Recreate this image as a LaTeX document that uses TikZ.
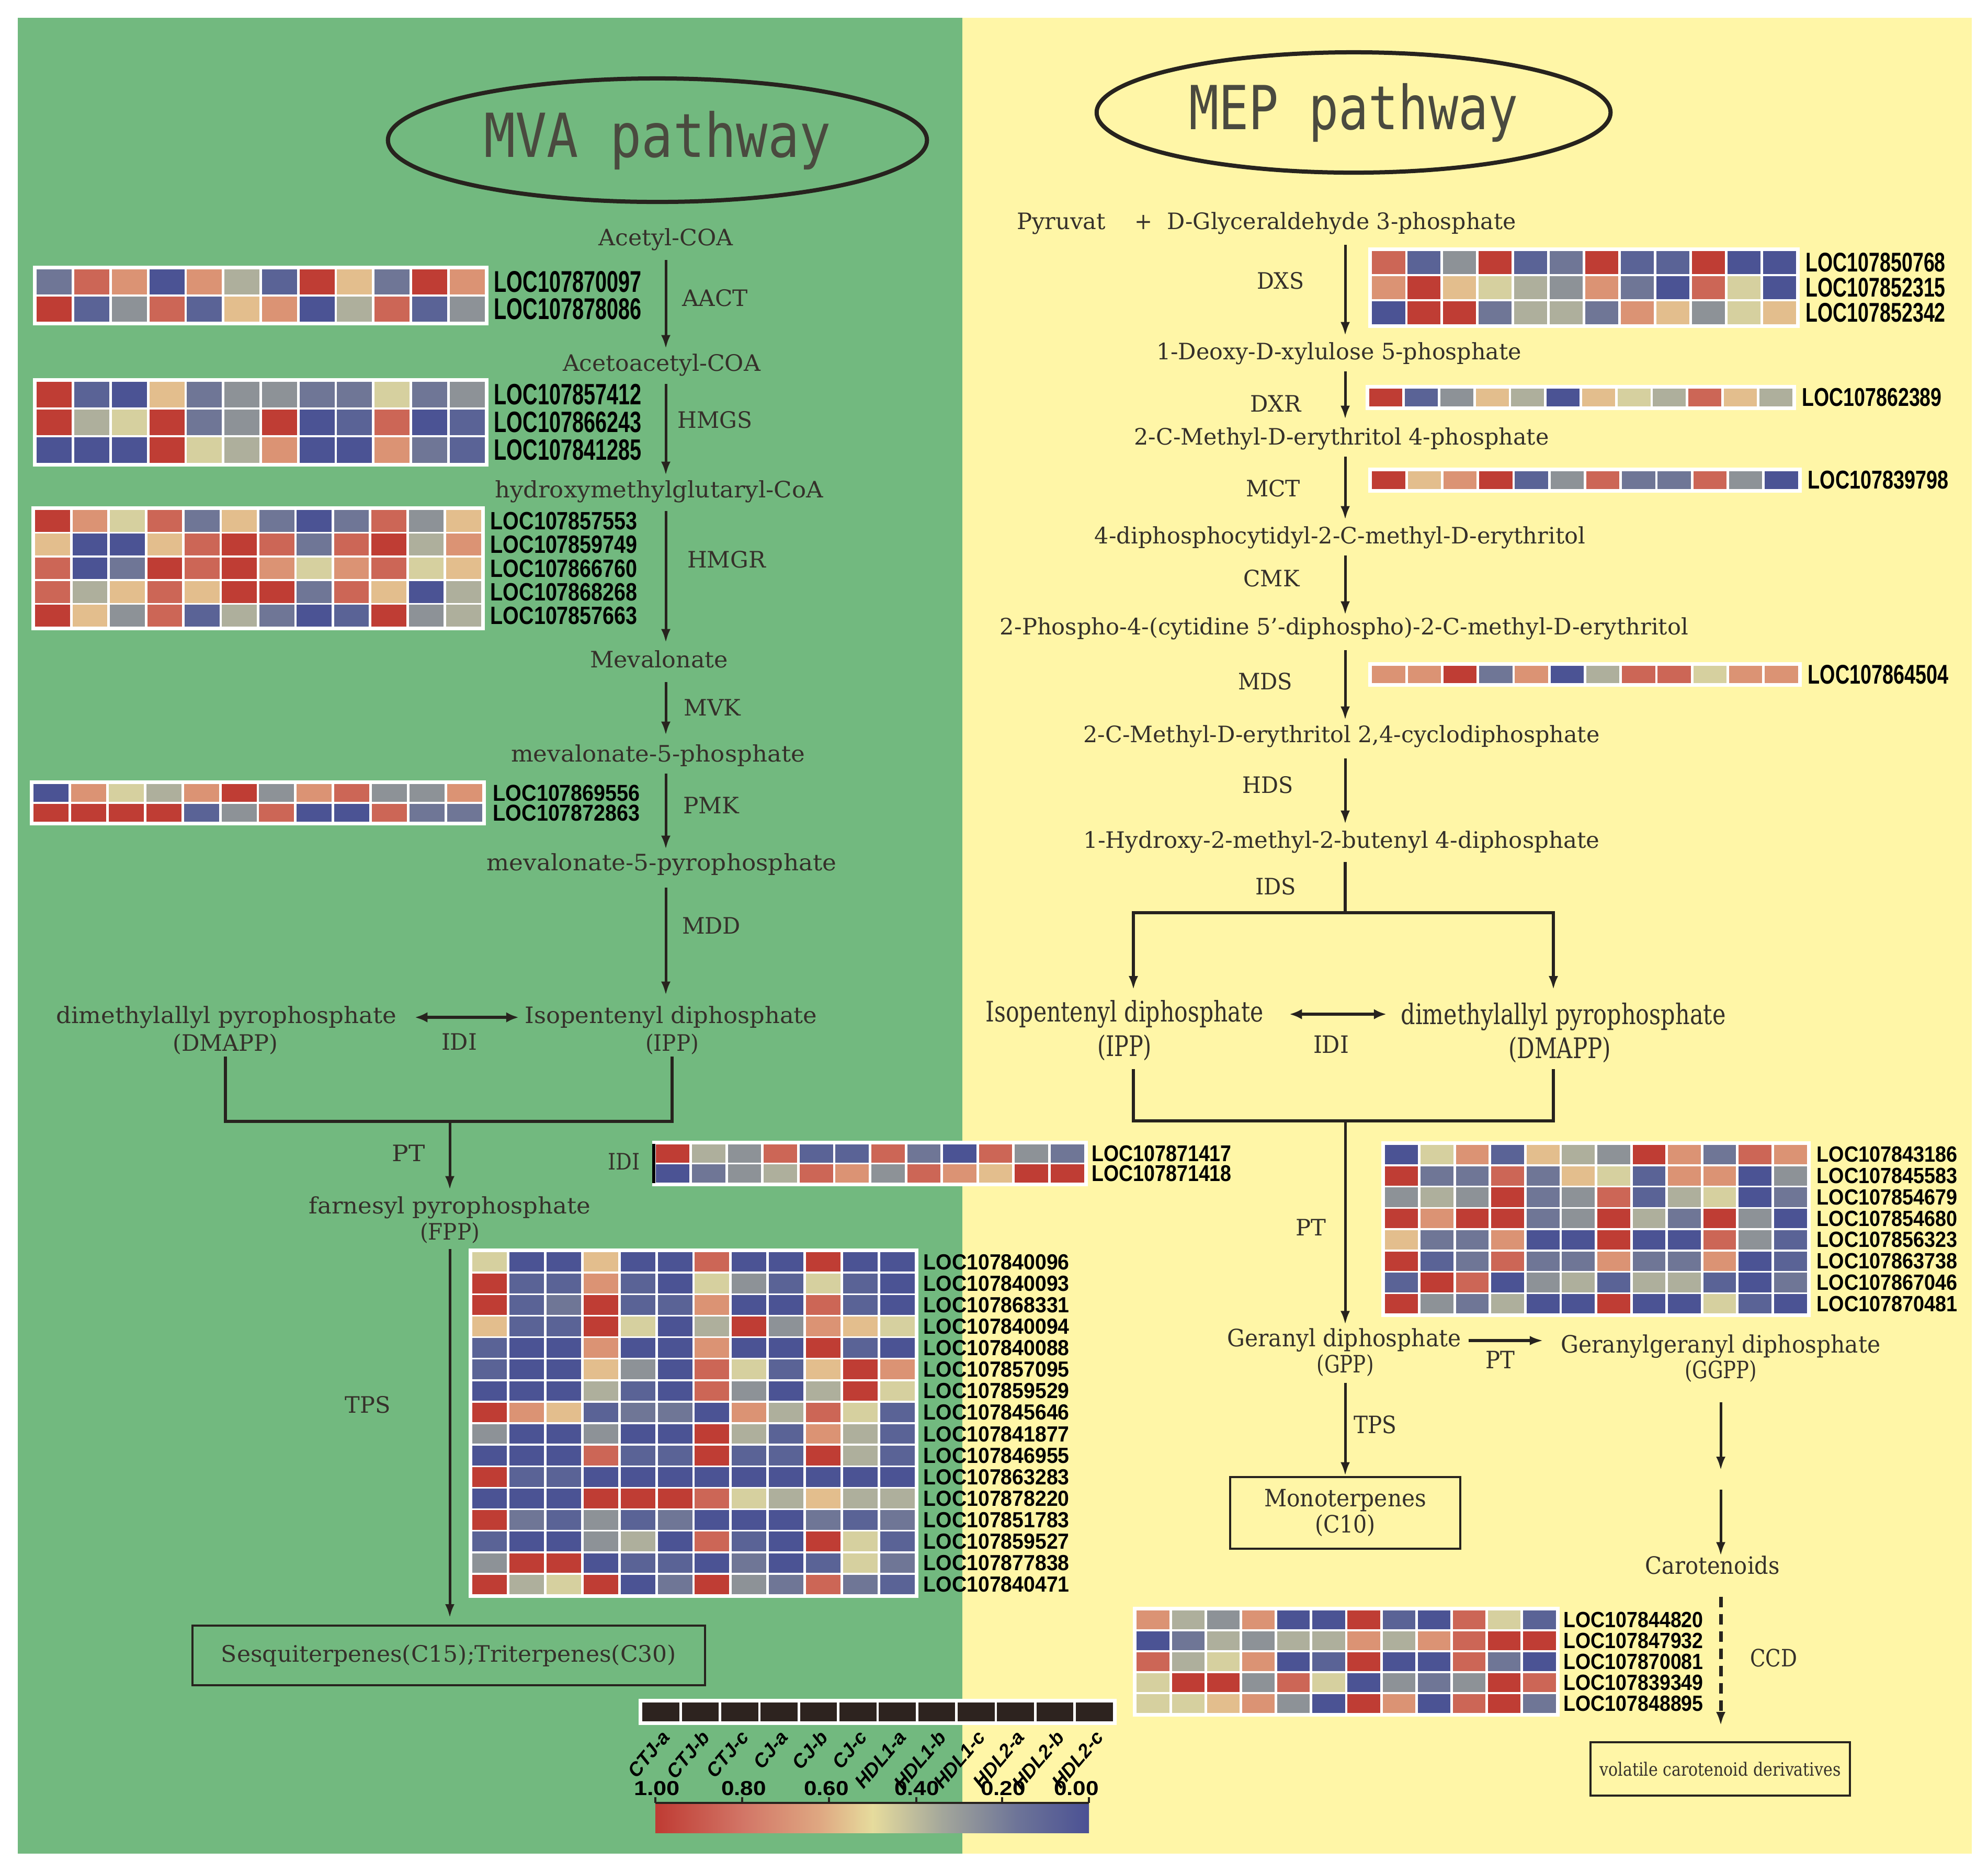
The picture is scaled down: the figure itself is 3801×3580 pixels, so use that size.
\documentclass[tikz,border=0pt]{standalone}
\usepackage{fontspec}
\setmainfont{DejaVu Serif}
\newfontfamily\locf{Liberation Sans}
\newfontfamily\monof{DejaVu Sans Mono}
\usetikzlibrary{arrows.meta,shapes.geometric,calc}
\newdimen\pxu \pxu=0.01cm
\newcommand\fw[2]{\resizebox{#1\pxu}{\height}{#2}}
\definecolor{bggreen}{HTML}{72B97F}
\definecolor{bgyellow}{HTML}{FFF6A7}
\definecolor{ink}{HTML}{27231E}
\definecolor{txtc}{HTML}{35302A}
\definecolor{ell}{HTML}{4A4A3F}
\definecolor{sq}{HTML}{2D231F}
\definecolor{hc0}{HTML}{4B5394}
\definecolor{hc1}{HTML}{5A6396}
\definecolor{hc2}{HTML}{6F7696}
\definecolor{hc3}{HTML}{8D9297}
\definecolor{hc4}{HTML}{AEAF9C}
\definecolor{hc5}{HTML}{D6D09F}
\definecolor{hc6}{HTML}{E3BE8D}
\definecolor{hc7}{HTML}{DB9374}
\definecolor{hc8}{HTML}{CC6656}
\definecolor{hc9}{HTML}{BF3D34}
\definecolor{g0}{HTML}{BF3B33}
\definecolor{g1}{HTML}{D27566}
\definecolor{g2}{HTML}{DFA882}
\definecolor{g3}{HTML}{E6DC9D}
\definecolor{g4}{HTML}{A4A79B}
\definecolor{g5}{HTML}{6E7598}
\definecolor{g6}{HTML}{4B5194}
\tikzset{
 txt/.style={inner sep=0pt, text=txtc, font=\fontsize{12.3}{14}\selectfont, text height=9.35pt, text depth=2.95pt},
 mid/.style={inner sep=0pt, text=txtc, font=\fontsize{13}{15}\selectfont, text height=9.88pt, text depth=3.12pt},
 big/.style={inner sep=0pt, text=txtc, font=\fontsize{15.4}{18}\selectfont, text height=11.7pt, text depth=3.7pt},
 loc/.style={inner sep=0pt, anchor=west, text=black},
 arr/.style={draw=ink, line width=0.05cm, -{Latex[length=0.26cm,width=0.18cm]}},
 brk/.style={draw=ink, line width=0.06cm, line join=miter},
 dbl/.style={draw=ink, line width=0.055cm, {Latex[length=0.24cm,width=0.2cm]}-{Latex[length=0.24cm,width=0.2cm]}},
 sbox/.style={draw=ink, line width=0.04cm, inner sep=0pt, text=txtc},
 pw/.style={ellipse, draw=ink, line width=0.08cm, inner sep=0pt, text=ell, font=\monof\fontsize{33}{33}\selectfont},
 leg/.style={inner sep=0pt, text=black, font=\locf\bfseries\itshape\fontsize{10.5}{11}\selectfont},
 num/.style={inner sep=0pt, text=black, font=\locf\bfseries\fontsize{11}{12}\selectfont},
}
\newcommand\hset[8]{%
 \pgfmathsetmacro\hx{#1+5}\pgfmathsetmacro\hy{#2+5}%
 \pgfmathsetmacro\cw{(#3-#1-10)/12}\pgfmathsetmacro\rh{(#4-#2-10)/#5}%
 \def\lx{#6}\def\lfs{#7}\def\lw{#8}%
 \fill[white] (#1,#2) rectangle (#3,#4);}
\newcommand\hrow[3]{%
 \foreach \v [count=\i from 0] in {#2}{%
  \fill[fill=hc\v] ({\hx+\i*\cw+2.4},{\hy+#1*\rh+1.8}) rectangle ({\hx+(\i+1)*\cw-2.4},{\hy+(#1+1)*\rh-1.8});}%
 \node[loc, font=\locf\bfseries\fontsize{\lfs}{\lfs}\selectfont] (#3) at (\lx,{\hy+(#1+0.5)*\rh}) {\fw{\lw}{#3}};}
\begin{document}
\begin{tikzpicture}[x=0.01cm, y=-0.01cm]
\useasboundingbox (0,0) rectangle (3801,3580);
\fill[white] (0,0) rectangle (3801,3580);
\fill[bggreen] (34,34) rectangle (1840,3544);
\fill[bgyellow] (1840,34) rectangle (3770,3544);

% ---------- ellipses
\node[pw, minimum width=10.3cm, minimum height=2.36cm] (mva) at (1257,268) {\fw{664}{MVA pathway}};
\node[pw, minimum width=9.82cm, minimum height=2.3cm] (mepp) at (2588,215) {\fw{630}{MEP pathway}};

% ---------- MVA texts
\node[txt] (acetyl) at (1273,458) {\fw{257}{Acetyl-COA}};
\node[txt] (aact) at (1367,574) {\fw{126}{AACT}};
\node[txt] (acetoa) at (1265,698) {\fw{378}{Acetoacetyl-COA}};
\node[txt] (hmgs) at (1367,807) {\fw{143}{HMGS}};
\node[txt] (hmgcoa) at (1260,940) {\fw{628}{hydroxymethylglutaryl-CoA}};
\node[txt] (hmgr) at (1389,1074) {\fw{150}{HMGR}};
\node[txt] (mev) at (1260,1265) {\fw{264}{Mevalonate}};
\node[txt] (mvk) at (1362,1357) {\fw{109}{MVK}};
\node[txt] (mevp) at (1258,1445) {\fw{562}{mevalonate-5-phosphate}};
\node[txt] (pmk) at (1360,1544) {\fw{107}{PMK}};
\node[txt] (mevpp) at (1265,1653) {\fw{669}{mevalonate-5-pyrophosphate}};
\node[txt] (mdd) at (1360,1774) {\fw{112}{MDD}};
\node[txt] (dmapp) at (433,1945) {\fw{651}{dimethylallyl pyrophosphate}};
\node[txt] (dmappb) at (431,1998) {\fw{201}{(DMAPP)}};
\node[txt] (ipp) at (1283,1945) {\fw{559}{Isopentenyl diphosphate}};
\node[txt] (ippb) at (1285,1998) {\fw{102}{(IPP)}};
\node[txt] (idia) at (878,1996) {\fw{68}{IDI}};
\node[txt] (pta) at (781,2209) {\fw{63}{PT}};
\node[txt] (idib) at (1193,2225) {\fw{61}{IDI}};
\node[txt] (fpp) at (860,2309) {\fw{539}{farnesyl pyrophosphate}};
\node[txt] (fppb) at (860,2359) {\fw{114}{(FPP)}};
\node[txt] (tpsa) at (703,2690) {\fw{87}{TPS}};
\node[sbox, minimum width=9.8cm, minimum height=1.14cm, font=\fontsize{12.3}{14}\selectfont] (sesq) at (858,3165) {\fw{870}{Sesquiterpenes(C15);Triterpenes(C30)}};

% ---------- MVA connectors
\coordinate (mvx) at (1273,0);
\draw[arr, shorten <=0.17cm, shorten >=0.09cm] (acetyl.south -| mvx) -- (acetoa.north -| mvx);
\draw[arr, shorten <=0.14cm, shorten >=0.09cm] (acetoa.south -| mvx) -- (hmgcoa.north -| mvx);
\draw[arr, shorten <=0.15cm, shorten >=0.14cm] (hmgcoa.south -| mvx) -- (mev.north -| mvx);
\draw[arr, shorten <=0.17cm, shorten >=0.17cm] (mev.south -| mvx) -- (mevp.north -| mvx);
\draw[arr, shorten <=0.12cm, shorten >=0.07cm] (mevp.south -| mvx) -- (mevpp.north -| mvx);
\draw[arr, shorten <=0.22cm, shorten >=0.20cm] (mevpp.south -| mvx) -- (ipp.north -| mvx);
\draw[dbl, shorten <=0.34cm, shorten >=0.11cm] (dmapp.east) -- (ipp.west);
\coordinate (mvajoin) at (860,2144);
\draw[brk] (dmappb.south) -- (dmappb.south |- mvajoin) -- (ippb.south |- mvajoin) -- (ippb.south);
\draw[arr, shorten >=0.12cm] (mvajoin) -- (fpp.north -| mvajoin);
\draw[arr, shorten <=0.07cm, shorten >=0.13cm] (fppb.south) -- (fppb.south |- sesq.north);

% ---------- MEP texts
\node[txt] (pyr) at (2029,427) {\fw{170}{Pyruvat}};
\node[txt] (plus) at (2186,427) {\fw{34}{+}};
\node[txt] (gap) at (2565,427) {\fw{667}{D-Glyceraldehyde 3-phosphate}};
\node[txt] (dxs) at (2448,541) {\fw{90}{DXS}};
\node[txt] (dxp) at (2560,676) {\fw{698}{1-Deoxy-D-xylulose 5-phosphate}};
\node[txt] (dxr) at (2439,776) {\fw{97}{DXR}};
\node[txt] (mep) at (2565,839) {\fw{793}{2-C-Methyl-D-erythritol 4-phosphate}};
\node[txt] (mct) at (2434,938) {\fw{104}{MCT}};
\node[txt] (cdpme) at (2562,1028) {\fw{938}{4-diphosphocytidyl-2-C-methyl-D-erythritol}};
\node[txt] (cmk) at (2431,1110) {\fw{107}{CMK}};
\node[txt] (cdpmep) at (2570,1202) {\fw{1316}{2-Phospho-4-(cytidine 5’-diphospho)-2-C-methyl-D-erythritol}};
\node[txt] (mds) at (2419,1307) {\fw{104}{MDS}};
\node[txt] (mecpp) at (2565,1408) {\fw{987}{2-C-Methyl-D-erythritol 2,4-cyclodiphosphate}};
\node[txt] (hds) at (2424,1505) {\fw{97}{HDS}};
\node[txt] (hmbpp) at (2565,1610) {\fw{987}{1-Hydroxy-2-methyl-2-butenyl 4-diphosphate}};
\node[txt] (ids) at (2439,1699) {\fw{78}{IDS}};
\node[big] (ippm) at (2150,1939) {\fw{531}{Isopentenyl diphosphate}};
\node[big] (ippmb) at (2150,2005) {\fw{104}{(IPP)}};
\node[mid] (idim) at (2545,2002) {\fw{68}{IDI}};
\node[big] (dmappm) at (2989,1944) {\fw{621}{dimethylallyl pyrophosphate}};
\node[big] (dmappmb) at (2982,2009) {\fw{196}{(DMAPP)}};
\node[txt] (ptm) at (2506,2351) {\fw{58}{PT}};
\node[mid] (gpp) at (2570,2563) {\fw{447}{Geranyl diphosphate}};
\node[mid] (gppb) at (2572,2613) {\fw{109}{(GPP)}};
\node[mid] (ptb) at (2868,2605) {\fw{56}{PT}};
\node[mid] (ggpp) at (3290,2575) {\fw{611}{Geranylgeranyl diphosphate}};
\node[mid] (ggppb) at (3290,2624) {\fw{138}{(GGPP)}};
\node[mid] (tpsm) at (2629,2729) {\fw{82}{TPS}};
\node[sbox, minimum width=4.4cm, minimum height=1.37cm, align=center, font=\fontsize{13}{14.2}\selectfont] (mono) at (2572,2892) {\fw{310}{Monoterpenes}\\\fw{116}{(C10)}};
\node[mid] (carot) at (3274,2998) {\fw{257}{Carotenoids}};
\node[mid] (ccd) at (3391,3175) {\fw{90}{CCD}};
\node[sbox, minimum width=4.96cm, minimum height=1.02cm, font=\fontsize{10}{12}\selectfont] (vol) at (3289,3382) {\fw{461}{volatile carotenoid derivatives}};

% ---------- MEP connectors
\coordinate (mpx) at (2572,0);
\draw[arr, shorten <=0.19cm, shorten >=0.12cm] (gap.south -| mpx) -- (dxp.north -| mpx);
\draw[arr, shorten <=0.12cm, shorten >=0.15cm] (dxp.south -| mpx) -- (mep.north -| mpx);
\draw[arr, shorten <=0.12cm, shorten >=0.12cm] (mep.south -| mpx) -- (cdpme.north -| mpx);
\draw[arr, shorten <=0.12cm, shorten >=0.04cm] (cdpme.south -| mpx) -- (cdpmep.north -| mpx);
\draw[arr, shorten <=0.19cm, shorten >=0.09cm] (cdpmep.south -| mpx) -- (mecpp.north -| mpx);
\draw[arr, shorten <=0.20cm, shorten >=0.12cm] (mecpp.south -| mpx) -- (hmbpp.north -| mpx);
\coordinate (mepsplit) at (2572,1745);
\coordinate (mepL) at (2167,1745);
\coordinate (mepR) at (2970,1745);
\draw[brk, shorten <=0.16cm] (hmbpp.south -| mpx) -- (mepsplit);
\draw[arr, line width=0.06cm, shorten >=0.19cm] (mepsplit) -- (mepL) -- (mepL |- ippm.north);
\draw[arr, line width=0.06cm, shorten >=0.24cm] (mepsplit) -- (mepR) -- (mepR |- dmappm.north);
\draw[dbl, shorten <=0.49cm, shorten >=0.27cm] (ippm.east) -- (ippm.east -| dmappm.west);
\coordinate (mepjoin) at (2572,2143);
\draw[brk, shorten <=0.11cm, shorten >=0.07cm] (mepL |- ippmb.south) -- (mepL |- mepjoin) -- (mepR |- mepjoin) -- (mepR |- dmappmb.south);
\draw[arr, shorten >=0.07cm] (mepjoin) -- (mepjoin |- gpp.north);
\draw[arr, line width=0.06cm, shorten <=0.14cm, shorten >=0.33cm] (gpp.east) -- (gpp.east -| ggpp.west);
\draw[arr, shorten <=0.07cm] (gppb.south) -- (gppb.south |- mono.north);
\coordinate (ggmid) at (3290,2830);
\draw[arr, shorten <=0.33cm, shorten >=0.19cm] (ggppb.south) -- (ggmid);
\draw[arr, shorten <=0.18cm] (ggmid) -- (ggmid |- carot.north);
\draw[draw=ink, line width=0.07cm, dash pattern=on 0.2cm off 0.13cm, -{Latex[length=0.26cm,width=0.18cm]}, shorten <=0.31cm, shorten >=0.30cm] (carot.south -| ggmid) -- (ggmid |- vol.north);

% ---------- heatmaps
\hset{63}{508}{934}{622}{2}{944}{16.3}{282}
\hrow{0}{2,8,7,0,7,4,1,9,6,2,9,7}{LOC107870097}
\hrow{1}{9,1,3,8,1,6,7,0,4,8,1,3}{LOC107878086}

\hset{63}{723}{934}{892}{3}{944}{16}{282}
\hrow{0}{9,1,0,6,2,3,3,2,2,5,2,3}{LOC107857412}
\hrow{1}{9,4,5,9,2,3,9,0,1,8,0,1}{LOC107866243}
\hrow{2}{0,0,0,9,5,4,7,0,0,7,2,1}{LOC107841285}

\hset{60}{968}{927}{1205}{5}{937}{13.6}{281}
\hrow{0}{9,7,5,8,2,6,2,0,2,8,3,6}{LOC107857553}
\hrow{1}{6,0,0,6,8,9,8,2,8,9,4,7}{LOC107859749}
\hrow{2}{8,0,2,9,8,9,7,5,7,8,5,6}{LOC107866760}
\hrow{3}{8,4,6,8,6,9,9,2,8,6,0,4}{LOC107868268}
\hrow{4}{9,6,3,8,1,4,2,0,1,9,3,4}{LOC107857663}

\hset{57}{1492}{929}{1578}{2}{942}{12.5}{281}
\hrow{0}{0,7,5,4,7,9,3,7,8,3,3,7}{LOC107869556}
\hrow{1}{9,9,9,9,1,3,8,0,0,8,2,2}{LOC107872863}

\hset{1247}{2181}{2080}{2268}{2}{2087}{12.4}{267}
\hrow{0}{9,4,3,8,1,1,8,2,0,8,3,2}{LOC107871417}
\hrow{1}{0,2,3,4,8,7,3,8,7,6,9,9}{LOC107871418}
\coordinate (idibarT) at (1250,2187);
\coordinate (idibarB) at (1250,2262);
\draw[draw=black, line width=0.06cm] (idibarT) -- (idibarB);

\hset{896}{2387}{1756}{3055}{16}{1765}{11.9}{279}
\hrow{0}{5,0,0,6,0,0,8,0,0,9,0,0}{LOC107840096}
\hrow{1}{9,1,1,7,1,0,5,3,1,5,1,0}{LOC107840093}
\hrow{2}{9,1,2,9,1,1,7,0,0,8,1,0}{LOC107868331}
\hrow{3}{6,1,1,9,5,0,4,9,3,7,6,5}{LOC107840094}
\hrow{4}{1,0,0,7,0,0,7,0,0,9,1,0}{LOC107840088}
\hrow{5}{1,0,0,6,3,0,8,5,1,6,9,7}{LOC107857095}
\hrow{6}{0,0,0,4,1,0,8,3,0,4,9,5}{LOC107859529}
\hrow{7}{9,7,6,1,2,2,0,7,4,8,5,1}{LOC107845646}
\hrow{8}{3,0,0,3,0,0,9,4,1,7,4,1}{LOC107841877}
\hrow{9}{0,0,0,8,1,1,9,1,1,9,4,1}{LOC107846955}
\hrow{10}{9,1,1,0,0,0,0,0,0,0,0,0}{LOC107863283}
\hrow{11}{0,0,0,9,9,9,8,5,4,6,4,4}{LOC107878220}
\hrow{12}{9,2,1,3,1,2,0,0,0,2,1,2}{LOC107851783}
\hrow{13}{1,0,0,3,4,0,8,1,0,9,5,1}{LOC107859527}
\hrow{14}{3,9,9,0,1,1,0,2,0,1,5,2}{LOC107877838}
\hrow{15}{9,4,5,9,0,2,9,3,2,8,2,1}{LOC107840471}

\hset{2616}{473}{3441}{627}{3}{3452}{14.7}{267}
\hrow{0}{8,1,3,9,1,2,9,1,1,9,0,0}{LOC107850768}
\hrow{1}{7,9,6,5,4,3,7,2,0,8,5,0}{LOC107852315}
\hrow{2}{0,9,9,2,4,4,2,7,6,3,5,6}{LOC107852342}

\hset{2611}{736}{3434}{784}{1}{3445}{14}{267}
\hrow{0}{9,1,3,6,4,0,6,5,4,8,6,4}{LOC107862389}

\hset{2616}{894}{3445}{942}{1}{3456}{14}{269}
\hrow{0}{9,6,7,9,1,3,8,2,2,8,3,0}{LOC107839798}

\hset{2616}{1266}{3445}{1313}{1}{3456}{14.7}{269}
\hrow{0}{7,7,9,2,7,0,4,8,8,5,7,7}{LOC107864504}

\hset{2641}{2182}{3462}{2518}{8}{3473}{12}{269}
\hrow{0}{0,5,7,1,6,4,3,9,7,2,8,7}{LOC107843186}
\hrow{1}{9,2,2,8,2,6,5,1,7,7,0,3}{LOC107845583}
\hrow{2}{3,4,3,9,2,3,8,1,4,5,0,2}{LOC107854679}
\hrow{3}{9,7,9,9,2,3,9,4,2,9,3,0}{LOC107854680}
\hrow{4}{6,2,2,7,0,0,9,0,0,8,3,1}{LOC107856323}
\hrow{5}{9,1,2,8,2,2,7,2,2,7,0,1}{LOC107863738}
\hrow{6}{1,9,8,0,3,4,1,4,4,1,0,2}{LOC107867046}
\hrow{7}{9,3,2,4,0,0,9,0,0,5,1,0}{LOC107870481}

\hset{2166}{3072}{2982}{3282}{5}{2989}{12}{267}
\hrow{0}{7,4,3,7,0,0,9,1,0,8,5,1}{LOC107844820}
\hrow{1}{0,2,4,3,4,4,7,4,7,8,9,9}{LOC107847932}
\hrow{2}{8,4,5,7,0,1,9,0,0,8,2,0}{LOC107870081}
\hrow{3}{5,9,9,3,8,5,0,3,2,3,9,8}{LOC107839349}
\hrow{4}{5,5,6,7,3,0,9,7,0,8,9,2}{LOC107848895}

% ---------- legend
\fill[white] (1221,3248) rectangle (2135,3298);
\foreach \i in {0,...,11}{\fill[sq] ({1226+\i*75.33+2.4},3255) rectangle ({1226+(\i+1)*75.33-2.4},3291);}
\foreach \t [count=\i from 0] in {CTJ-a,CTJ-b,CTJ-c,CJ-a,CJ-b,CJ-c,HDL1-a,HDL1-b,HDL1-c,HDL2-a,HDL2-b,HDL2-c}{
 \node[leg, rotate=50, anchor=east] (lab\i) at ({1226+(\i+0.5)*75.33+10},3314) {\t};}
\node[num] (n100) at (1256,3419) {\fw{88}{1.00}};
\node[num] (n080) at (1422,3419) {\fw{86}{0.80}};
\node[num] (n060) at (1580,3419) {\fw{86}{0.60}};
\node[num] (n040) at (1753,3419) {\fw{86}{0.40}};
\node[num] (n020) at (1918,3419) {\fw{86}{0.20}};
\node[num] (n000) at (2058,3419) {\fw{86}{0.00}};
\shade[left color=g0, right color=g1] (1253,3449) rectangle (1420,3504);
\shade[left color=g1, right color=g2] (1419,3449) rectangle (1569,3504);
\shade[left color=g2, right color=g3] (1568,3449) rectangle (1669,3504);
\shade[left color=g3, right color=g4] (1668,3449) rectangle (1801,3504);
\shade[left color=g4, right color=g5] (1800,3449) rectangle (1942,3504);
\shade[left color=g5, right color=g6] (1941,3449) rectangle (2082,3504);
\draw[draw=ink, line width=0.04cm] (1253,3447) -- (2082,3447);
\foreach \x in {1253,1419,1585,1752,1916,2082}{\draw[draw=ink, line width=0.04cm] (\x,3436) -- (\x,3447);}
\end{tikzpicture}
\end{document}
